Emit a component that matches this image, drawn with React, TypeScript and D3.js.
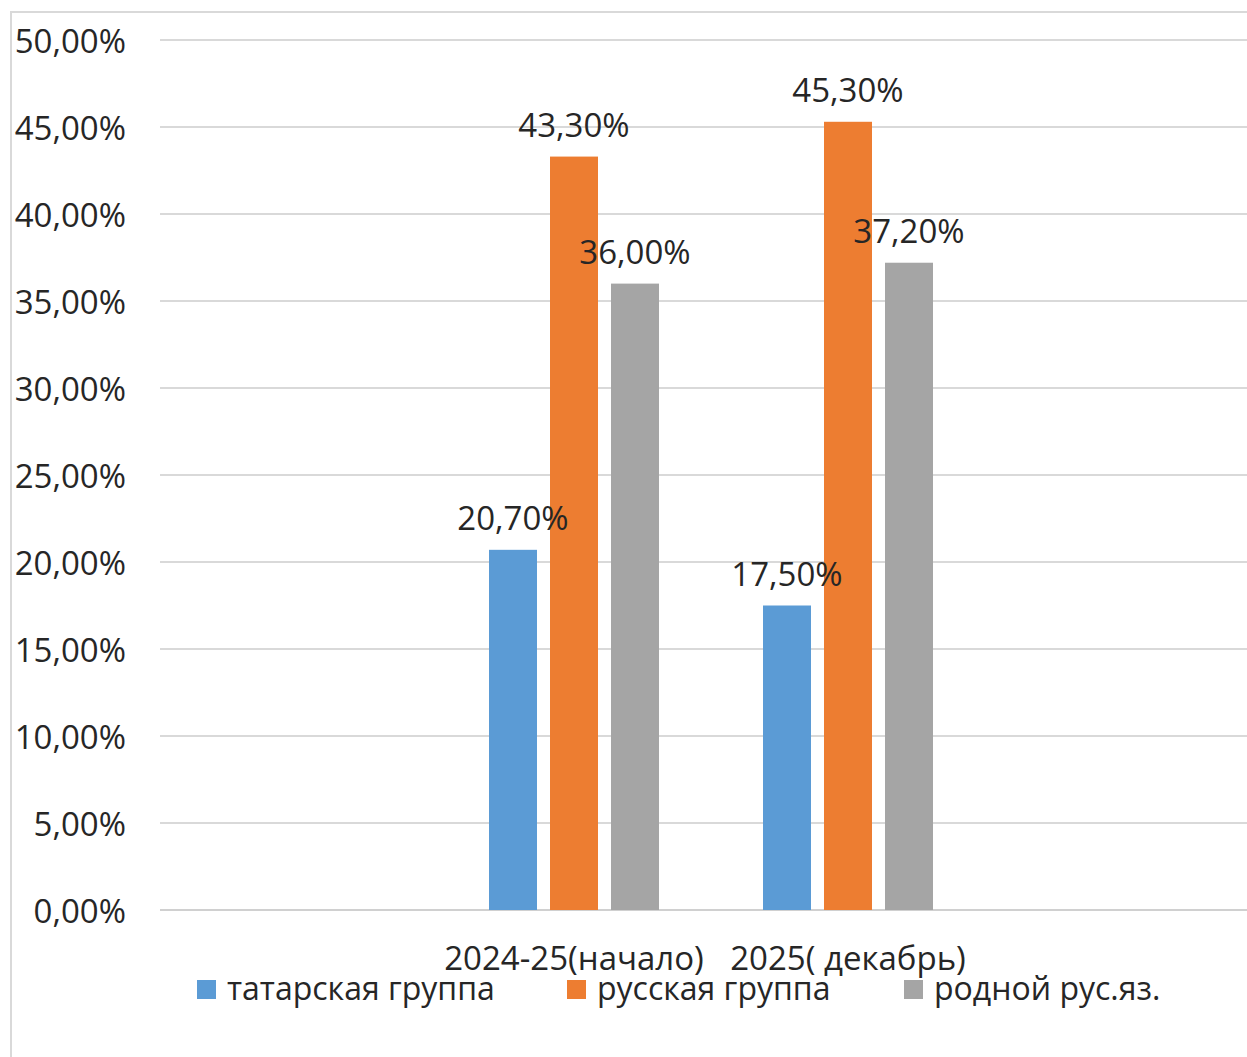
import React from "react";
import * as d3 from "d3";

const categories = ["", "2024-25(начало)", "2025( декабрь)", ""];
const seriesNames = ["татарская группа", "русская группа", "родной рус.яз."];
const tatarValues: (number | null)[] = [null, 20.7, 17.5, null];
const russianValues: (number | null)[] = [null, 43.3, 45.3, null];
const nativeValues: (number | null)[] = [null, 36.0, 37.2, null];
const seriesColors = ["#5b9bd5", "#ed7d31", "#a5a5a5"];
const yTicks = [0, 5, 10, 15, 20, 25, 30, 35, 40, 45, 50];

const W = 1247;
const H = 1057;
const FONT = "'Open Sans', 'Noto Sans', sans-serif";

const fmt = (v: number) => d3.format(".2f")(v).replace(".", ",") + "%";

export default function App() {
  const gridLeft = 160;
  const left = 163;
  const right = 1259;
  const top = 40;
  const bottom = 910;
  const seriesValues = [tatarValues, russianValues, nativeValues];

  const x = d3.scaleBand<number>().domain(d3.range(categories.length)).range([left, right]).paddingInner(0).paddingOuter(0);
  const groupW = x.bandwidth() * (170 / 274);
  const xs = d3.scaleBand<number>().domain(d3.range(seriesNames.length)).range([0, groupW]).paddingInner(13 / 61).paddingOuter(0);
  const y = d3.scaleLinear().domain([0, 50]).range([bottom, top]);

  const legendX = [197, 567, 904];

  const marks: { key: string; bx: number; v: number; si: number }[] = [];
  categories.forEach((_, ci) => {
    const gx = (x(ci) as number) + (x.bandwidth() - groupW) / 2;
    seriesValues.forEach((vals, si) => {
      const v = vals[ci];
      if (v == null) return;
      marks.push({ key: `${ci}-${si}`, bx: gx + (xs(si) as number), v, si });
    });
  });

  return (
    <svg width={W} height={H} style={{ position: "absolute", left: 0, top: 0, background: "#fff" }} fontFamily={FONT}>
      <rect x={0} y={0} width={W} height={H} fill="#fff" />
      <rect x={11} y={12} width={W + 20} height={H + 20} fill="none" stroke="#d9d9d9" strokeWidth={2} />
      {yTicks.map((t) => (
        <g key={t}>
          <line x1={gridLeft} x2={W} y1={y(t)} y2={y(t)} stroke={t === 0 ? "#d0d0d0" : "#d9d9d9"} strokeWidth={2} />
          <text x={126} y={y(t)} textAnchor="end" dominantBaseline="central" fontSize={33} fill="#262626">
            {fmt(t)}
          </text>
        </g>
      ))}
      {marks.map((m) => (
        <rect key={m.key} x={m.bx} y={y(m.v)} width={xs.bandwidth()} height={y(0) - y(m.v)} fill={seriesColors[m.si]} />
      ))}
      {marks.map((m) => (
        <text key={m.key} x={m.bx + xs.bandwidth() / 2} y={y(m.v) - 20} textAnchor="middle" fontSize={33} fill="#262626">
          {fmt(m.v)}
        </text>
      ))}
      {categories.map((c, ci) =>
        c ? (
          <text key={ci} x={(x(ci) as number) + x.bandwidth() / 2} y={970} textAnchor="middle" fontSize={33} fill="#262626">
            {c}
          </text>
        ) : null
      )}
      {seriesNames.map((s, i) => (
        <g key={s}>
          <rect x={legendX[i]} y={980} width={19} height={19} fill={seriesColors[i]} />
          <text x={legendX[i] + 30} y={1000} fontSize={32} fill="#262626">
            {s}
          </text>
        </g>
      ))}
    </svg>
  );
}
